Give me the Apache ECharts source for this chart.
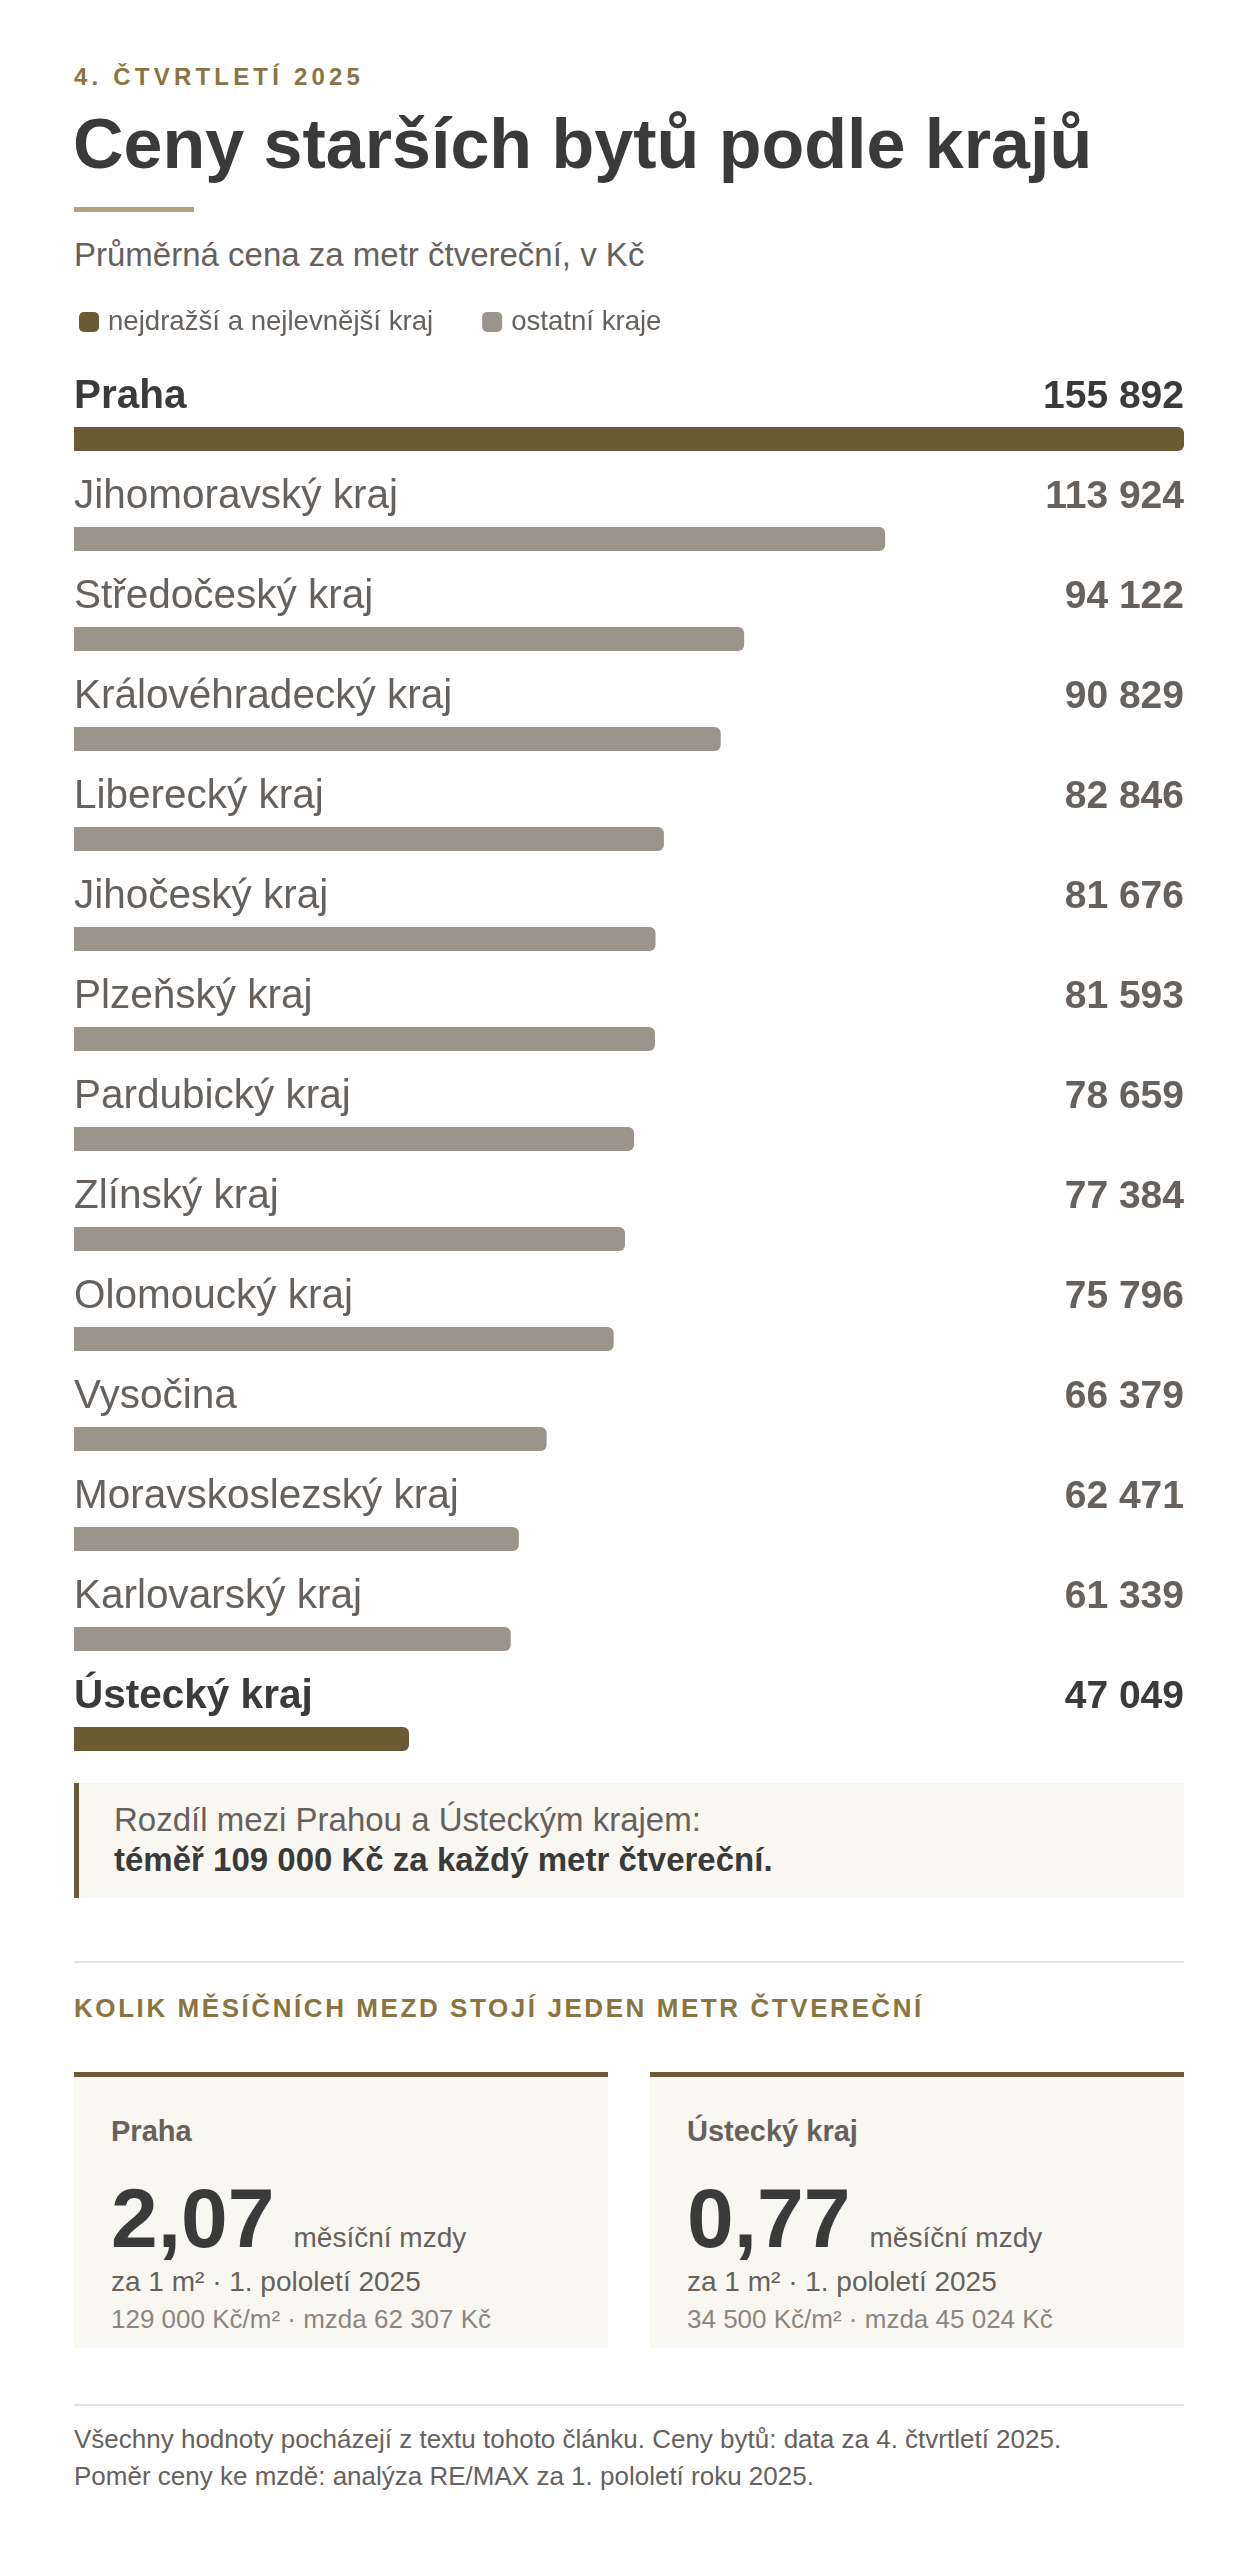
<!DOCTYPE html>
<html lang="cs">
<head>
<meta charset="utf-8">
<title>Ceny starších bytů podle krajů</title>
<script src="https://cdn.jsdelivr.net/npm/echarts@6/dist/echarts.min.js"></script>
<style>
html,body{margin:0;padding:0;background:#ffffff;}
body{width:1258px;height:2560px;position:relative;overflow:hidden;font-family:'Liberation Sans',Arial,Helvetica,sans-serif;}
.t{position:absolute;line-height:1;white-space:nowrap;margin:0;}
#kicker{left:74px;top:65px;font-size:24px;font-weight:bold;letter-spacing:4.2px;color:#8a7442;}
#title{left:73px;top:109px;font-size:70px;font-weight:bold;color:#3a3a3a;}
#accent{position:absolute;left:74px;top:207px;width:120px;height:5px;background:#b3a27c;}
#subtitle{left:74px;top:238px;font-size:33px;color:#66615c;}
#chart{position:absolute;left:0;top:290px;width:1258px;height:1480px;}
#callout{position:absolute;left:74px;top:1783px;width:1110px;height:115px;box-sizing:border-box;border-left:5px solid #6b5a34;background:#f9f7f1;}
#callout .l1{left:35px;top:20px;font-size:33px;color:#66615c;}
#callout .l2{left:35px;top:60px;font-size:33px;font-weight:bold;color:#3a3a3a;}
.divider{position:absolute;left:74px;width:1110px;height:2px;background:#e8e5e0;}
#heading{left:74px;top:1995px;font-size:26px;font-weight:bold;letter-spacing:2.57px;color:#8a7442;}
.card{position:absolute;top:2072px;width:534px;height:276px;box-sizing:border-box;border-top:5px solid #6b5a34;background:#f9f7f1;}
.card .name{left:37px;top:39.5px;font-size:29px;font-weight:bold;color:#66615c;}
.card .big{left:37px;top:99px;font-size:84px;font-weight:bold;color:#3a3a3a;}
.card .big span.u{font-size:28px;font-weight:normal;color:#66615c;margin-left:19px;}
.card .za{left:37px;top:191px;font-size:28px;color:#66615c;}
.card .small{left:37px;top:229px;font-size:26px;color:#8c8680;}
.foot{left:74px;font-size:26px;color:#66615c;}
</style>
</head>
<body>
<div id="kicker" class="t">4. ČTVRTLETÍ 2025</div>
<h1 id="title" class="t">Ceny starších bytů podle krajů</h1>
<div id="accent"></div>
<div id="subtitle" class="t">Průměrná cena za metr čtvereční, v Kč</div>
<div id="chart"></div>
<div id="callout">
  <div class="t l1">Rozdíl mezi Prahou a Ústeckým krajem:</div>
  <div class="t l2">téměř 109 000 Kč za každý metr čtvereční.</div>
</div>
<div class="divider" style="top:1961px"></div>
<div id="heading" class="t">KOLIK MĚSÍČNÍCH MEZD STOJÍ JEDEN METR ČTVEREČNÍ</div>
<div id="cards"></div>
<div class="divider" style="top:2404px"></div>
<div class="t foot" style="top:2426px">Všechny hodnoty pocházejí z textu tohoto článku. Ceny bytů: data za 4. čtvrtletí 2025.</div>
<div class="t foot" style="top:2463px">Poměr ceny ke mzdě: analýza RE/MAX za 1. pololetí roku 2025.</div>

<script>
// ---- data ----
const regions = ['Praha', 'Jihomoravský kraj', 'Středočeský kraj', 'Královéhradecký kraj', 'Liberecký kraj',
  'Jihočeský kraj', 'Plzeňský kraj', 'Pardubický kraj', 'Zlínský kraj', 'Olomoucký kraj', 'Vysočina',
  'Moravskoslezský kraj', 'Karlovarský kraj', 'Ústecký kraj'];
const prices = [155892, 113924, 94122, 90829, 82846, 81676, 81593, 78659, 77384, 75796, 66379, 62471, 61339, 47049];
const highlighted = ['Praha', 'Ústecký kraj'];
const seriesNames = ['nejdražší a nejlevnější kraj', 'ostatní kraje'];

const cardRegions = ['Praha', 'Ústecký kraj'];
const wageRatios = ['2,07', '0,77'];
const pricePerM2 = [129000, 34500];
const monthlyWages = [62307, 45024];

// ---- helpers ----
const FONT = "'Liberation Sans', Arial, Helvetica, sans-serif";
const fmt = v => String(v).replace(/\B(?=(\d{3})+(?!\d))/g, '\u00a0');
const isHL = i => highlighted.indexOf(regions[i]) !== -1;

// ---- cards ----
const cardsEl = document.getElementById('cards');
const cardLefts = [74, 650];
cardRegions.forEach((r, i) => {
  const c = document.createElement('div');
  c.className = 'card';
  c.style.left = cardLefts[i] + 'px';
  c.innerHTML =
    '<div class="t name">' + r + '</div>' +
    '<div class="t big">' + wageRatios[i] + '<span class="u">měsíční mzdy</span></div>' +
    '<div class="t za">za 1 m² · 1. pololetí 2025</div>' +
    '<div class="t small">' + fmt(pricePerM2[i]) + ' Kč/m² · mzda ' + fmt(monthlyWages[i]) + ' Kč</div>';
  cardsEl.appendChild(c);
});

// ---- chart ----
const chart = echarts.init(document.getElementById('chart'), null, { renderer: 'canvas' });
const labelRich = {
  h: { fontFamily: FONT, fontSize: 40.5, fontWeight: 'bold', color: '#3a3a3a', lineHeight: 40 },
  n: { fontFamily: FONT, fontSize: 40.5, fontWeight: 'normal', color: '#66615c', lineHeight: 40 }
};
const valueRich = {
  h: { fontFamily: FONT, fontSize: 39, fontWeight: 'bold', color: '#3a3a3a', lineHeight: 40 },
  n: { fontFamily: FONT, fontSize: 39, fontWeight: 'bold', color: '#66615c', lineHeight: 40 }
};

chart.setOption({
  animation: false,
  textStyle: { fontFamily: FONT },
  legend: {
    data: seriesNames,
    left: 74, top: 13,
    itemWidth: 20, itemHeight: 20, itemGap: 49,
    icon: 'roundRect',
    selectedMode: false,
    textStyle: { fontFamily: FONT, fontSize: 27.6, color: '#66615c', lineHeight: 28, padding: [0, 0, 0, 4] }
  },
  grid: { left: 74, right: 74, top: 99, height: 1400, containLabel: false, outerBoundsMode: 'none' },
  xAxis: { type: 'value', min: 0, max: 'dataMax', show: false },
  yAxis: [
    {
      type: 'category', data: regions, inverse: true,
      axisLine: { show: false }, axisTick: { show: false }, splitLine: { show: false },
      axisLabel: {
        inside: true, margin: 0, interval: 0, verticalAlign: 'bottom', padding: [0, 0, 22, 0],
        formatter: (v, i) => isHL(i) ? '{h|' + v + '}' : '{n|' + v + '}',
        rich: labelRich
      }
    },
    {
      type: 'category', data: prices.map(fmt), inverse: true, position: 'right',
      axisLine: { show: false }, axisTick: { show: false }, splitLine: { show: false },
      axisLabel: {
        inside: true, margin: 0, interval: 0, verticalAlign: 'bottom', padding: [0, 0, 22, 0],
        formatter: (v, i) => isHL(i) ? '{h|' + v + '}' : '{n|' + v + '}',
        rich: valueRich
      }
    }
  ],
  series: [
    {
      name: seriesNames[0], type: 'bar', yAxisIndex: 0, barWidth: 24, barGap: '-100%',
      data: prices.map((v, i) => isHL(i) ? v : '-'),
      itemStyle: { color: '#6b5a34', borderRadius: [0, 6, 6, 0] },
      emphasis: { disabled: true }
    },
    {
      name: seriesNames[1], type: 'bar', yAxisIndex: 0, barWidth: 24, barGap: '-100%',
      data: prices.map((v, i) => isHL(i) ? '-' : v),
      itemStyle: { color: '#9b948a', borderRadius: [0, 6, 6, 0] },
      emphasis: { disabled: true }
    }
  ]
});
</script>
</body>
</html>
